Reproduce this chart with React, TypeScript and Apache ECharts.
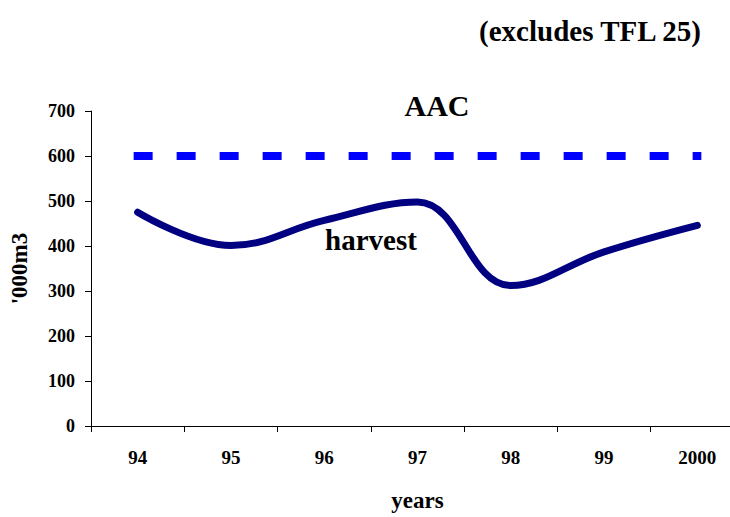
import React, { useEffect, useRef } from "react";
import * as echarts from "echarts";

const categories = ["94", "95", "96", "97", "98", "99", "2000"];
const harvest = [475, 401, 457, 498, 312, 387, 446];
const aac = [600, 600, 600, 600, 600, 600, 600];
const yTicks = { min: 0, max: 700, interval: 100 };

const FONT = "serif";

export default function App() {
  const ref = useRef<HTMLDivElement>(null);
  useEffect(() => {
    if (!ref.current) return;
    const chart = echarts.init(ref.current, undefined, { renderer: "svg" });
    chart.setOption({
      animation: false,
      backgroundColor: "#ffffff",
      textStyle: { fontFamily: FONT },
      title: {
        text: "(excludes TFL 25)",
        right: 42,
        top: 16,
        padding: 0,
        textStyle: { fontFamily: FONT, fontWeight: "bold", fontSize: 29, color: "#000" },
      },
      grid: { left: 90, top: 111, width: 654, height: 320, containLabel: false },
      xAxis: {
        type: "category",
        data: categories,
        boundaryGap: true,
        name: "years",
        nameLocation: "middle",
        nameGap: 63,
        nameTextStyle: { fontFamily: FONT, fontWeight: "bold", fontSize: 23, color: "#000" },
        axisLine: { lineStyle: { color: "#000", width: 1 } },
        axisTick: { show: true, alignWithLabel: false, length: 6, lineStyle: { color: "#000" } },
        axisLabel: { margin: 22, fontFamily: FONT, fontWeight: "bold", fontSize: 19, color: "#000" },
        splitLine: { show: false },
      },
      yAxis: {
        type: "value",
        min: yTicks.min,
        max: yTicks.max,
        interval: yTicks.interval,
        name: "'000m3",
        nameLocation: "middle",
        nameRotate: 90,
        nameGap: 60,
        nameTextStyle: { fontFamily: FONT, fontWeight: "bold", fontSize: 23, color: "#000" },
        axisLine: { show: true, lineStyle: { color: "#000", width: 1 } },
        axisTick: { show: true, length: 6, lineStyle: { color: "#000" } },
        axisLabel: { margin: 16, fontFamily: FONT, fontWeight: "bold", fontSize: 18, color: "#000" },
        splitLine: { show: false },
      },
      graphic: [
        {
          type: "text",
          x: 437,
          y: 105,
          style: { text: "AAC", fontFamily: FONT, fontWeight: "bold", fontSize: 30, fill: "#000", align: "center", verticalAlign: "middle" },
        },
        {
          type: "text",
          x: 371,
          y: 240,
          style: { text: "harvest", fontFamily: FONT, fontWeight: "bold", fontSize: 29, fill: "#000", align: "center", verticalAlign: "middle" },
        },
      ],
      series: [
        {
          name: "AAC",
          type: "line",
          data: aac,
          showSymbol: false,
          symbol: "none",
          lineStyle: { color: "#0000ff", width: 8, type: [11, 32], cap: "square" },
          z: 2,
        },
        {
          name: "harvest",
          type: "line",
          data: harvest,
          smooth: 0.4,
          showSymbol: false,
          symbol: "none",
          lineStyle: { color: "#000080", width: 7, cap: "round", join: "round" },
          z: 3,
        },
      ],
    });
    return () => chart.dispose();
  }, []);
  return (
    <div style={{ position: "absolute", left: 0, top: 0, width: 730, height: 517, overflow: "hidden" }}>
      <div ref={ref} style={{ position: "absolute", left: 0, top: 0, width: 745, height: 517 }} />
    </div>
  );
}
